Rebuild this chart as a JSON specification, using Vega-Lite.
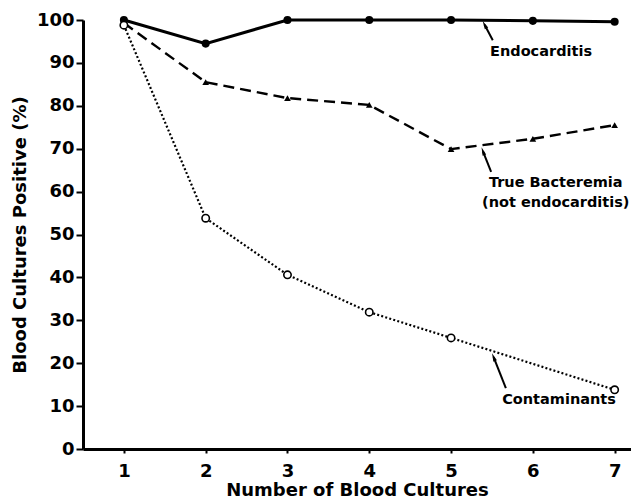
{
  "$schema": "https://vega.github.io/schema/vega-lite/v6.json",
  "autosize": {"type": "none"},
  "padding": {"left": 83, "top": 20, "right": 0, "bottom": 54},
  "width": 548,
  "height": 429,
  "background": "white",
  "config": {
    "view": {"stroke": null},
    "font": "DejaVu Sans",
    "axis": {"grid": false, "domainColor": "black", "tickColor": "black", "labelColor": "black", "titleColor": "black", "labelFont": "DejaVu Sans", "titleFont": "DejaVu Sans", "labelFontWeight": "bold", "titleFontWeight": "bold", "labelFontSize": 18, "titleFontSize": 18, "domainWidth": 3, "tickWidth": 2}
  },
  "datasets": {
    "series": [
      {"n": 1, "pct": 100, "group": "Endocarditis"},
      {"n": 2, "pct": 94.5, "group": "Endocarditis"},
      {"n": 3, "pct": 100, "group": "Endocarditis"},
      {"n": 4, "pct": 100, "group": "Endocarditis"},
      {"n": 5, "pct": 100, "group": "Endocarditis"},
      {"n": 6, "pct": 99.8, "group": "Endocarditis"},
      {"n": 7, "pct": 99.6, "group": "Endocarditis"},
      {"n": 1, "pct": 99.3, "group": "True Bacteremia"},
      {"n": 2, "pct": 85.5, "group": "True Bacteremia"},
      {"n": 3, "pct": 81.8, "group": "True Bacteremia"},
      {"n": 4, "pct": 80.2, "group": "True Bacteremia"},
      {"n": 5, "pct": 69.9, "group": "True Bacteremia"},
      {"n": 6, "pct": 72.3, "group": "True Bacteremia"},
      {"n": 7, "pct": 75.5, "group": "True Bacteremia"},
      {"n": 1, "pct": 98.8, "group": "Contaminants"},
      {"n": 2, "pct": 53.8, "group": "Contaminants"},
      {"n": 3, "pct": 40.6, "group": "Contaminants"},
      {"n": 4, "pct": 31.9, "group": "Contaminants"},
      {"n": 5, "pct": 25.9, "group": "Contaminants"},
      {"n": 7, "pct": 13.8, "group": "Contaminants"}
    ],
    "labels": [
      {"x": 6.1, "y": 92.5, "text": "Endocarditis"},
      {"x": 6.28, "y": 62.0, "text": "True Bacteremia"},
      {"x": 6.28, "y": 57.3, "text": "(not endocarditis)"},
      {"x": 6.32, "y": 11.4, "text": "Contaminants"}
    ],
    "arrows": [
      {"x": 5.51, "y": 95.3, "x2": 5.41, "y2": 98.9, "angle": -27},
      {"x": 5.49, "y": 64.6, "x2": 5.39, "y2": 69.4, "angle": -20},
      {"x": 5.67, "y": 14.2, "x2": 5.52, "y2": 21.4, "angle": -22}
    ]
  },
  "encoding": {
    "x": {"field": "n", "type": "quantitative", "scale": {"domain": [0.5, 7.2], "nice": false, "zero": false},
      "axis": {"values": [1, 2, 3, 4, 5, 6, 7], "title": "Number of Blood Cultures", "tickSize": 4, "labelPadding": 9, "titleY": 46, "titleBaseline": "alphabetic"}},
    "y": {"field": "pct", "type": "quantitative", "scale": {"domain": [0, 100], "nice": false},
      "axis": {"values": [0, 10, 20, 30, 40, 50, 60, 70, 80, 90, 100], "title": "Blood Cultures Positive (%)", "tickSize": 7, "labelPadding": 2, "titleX": -63, "titleBaseline": "middle"}}
  },
  "layer": [
    {
      "data": {"name": "series"},
      "transform": [{"filter": "datum.group === 'Endocarditis'"}],
      "mark": {"type": "line", "color": "black", "strokeWidth": 3, "point": {"filled": true, "color": "black", "size": 65}}
    },
    {
      "data": {"name": "series"},
      "transform": [{"filter": "datum.group === 'True Bacteremia'"}],
      "mark": {"type": "line", "color": "black", "strokeWidth": 2.4, "strokeDash": [11, 6]}
    },
    {
      "data": {"name": "series"},
      "transform": [{"filter": "datum.group === 'True Bacteremia'"}],
      "mark": {"type": "point", "shape": "triangle-up", "filled": true, "color": "black", "size": 45, "opacity": 1}
    },
    {
      "data": {"name": "series"},
      "transform": [{"filter": "datum.group === 'Contaminants'"}],
      "mark": {"type": "line", "color": "black", "strokeWidth": 2.2, "strokeDash": [2, 2.2]}
    },
    {
      "data": {"name": "series"},
      "transform": [{"filter": "datum.group === 'Contaminants'"}],
      "mark": {"type": "point", "shape": "circle", "filled": true, "fill": "white", "stroke": "black", "strokeWidth": 1.6, "size": 55, "opacity": 1}
    },
    {
      "data": {"name": "labels"},
      "mark": {"type": "text", "font": "DejaVu Sans", "fontWeight": "bold", "fontSize": 14.5, "color": "black", "align": "center", "baseline": "middle"},
      "encoding": {
        "x": {"field": "x", "type": "quantitative"},
        "y": {"field": "y", "type": "quantitative"},
        "text": {"field": "text"}
      }
    },
    {
      "data": {"name": "arrows"},
      "mark": {"type": "rule", "color": "black", "strokeWidth": 2},
      "encoding": {
        "x": {"field": "x", "type": "quantitative"},
        "y": {"field": "y", "type": "quantitative"},
        "x2": {"field": "x2"},
        "y2": {"field": "y2"}
      }
    },
    {
      "data": {"name": "arrows"},
      "mark": {"type": "point", "shape": "M0,-1L0.45,1L-0.45,1Z", "filled": true, "color": "black", "size": 70, "opacity": 1},
      "encoding": {
        "x": {"field": "x2", "type": "quantitative"},
        "y": {"field": "y2", "type": "quantitative"},
        "angle": {"field": "angle", "type": "quantitative", "scale": null}
      }
    }
  ]
}
